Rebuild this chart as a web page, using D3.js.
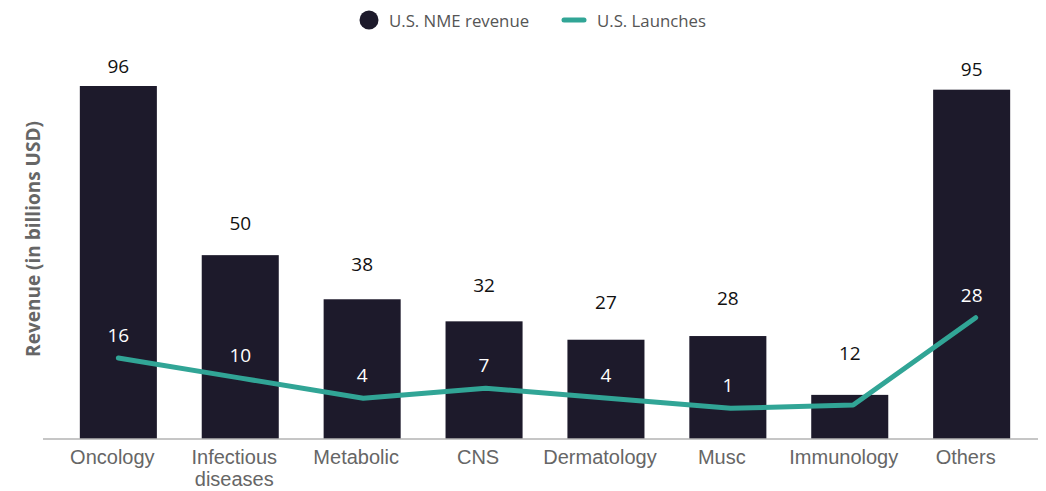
<!DOCTYPE html>
<html>
<head>
<meta charset="utf-8">
<script src="https://cdn.jsdelivr.net/npm/d3@7"></script>
<style>
  html, body { margin: 0; padding: 0; background: #fff; }
  svg { display: block; font-family: "Open Sans", sans-serif; }
</style>
</head>
<body>
<svg id="chart" width="1046" height="491"></svg>
<script>
const categories = ["Oncology", "Infectious diseases", "Metabolic", "CNS", "Dermatology", "Musc", "Immunology", "Others"];
const revenue = [96, 50, 38, 32, 27, 28, 12, 95];
const launches = [16, 10, 4, 7, 4, 1, 2, 28];
const hiddenLaunchLabels = ["Immunology"];
const seriesNames = ["U.S. NME revenue", "U.S. Launches"];
const yTitle = "Revenue (in billions USD)";

const barColor = "#1d1a2b";
const lineColor = "#31a596";

const W = 1046, H = 491;
const svg = d3.select("#chart");

const x = d3.scaleBand()
  .domain(categories)
  .range([57.4, 1032.6])
  .paddingInner(0.368)
  .paddingOuter(0.184);

const yBar = d3.scaleLinear().domain([0, 100]).range([439, 71.3]);
const yLabel = d3.scaleLinear().domain([0, 100]).range([394, 52.3]);
const yLine = d3.scaleLinear().domain([-8, 30]).range([438.5, 311]);
const xLine = d3.scalePoint().domain(categories)
  .range([x("Oncology") + x.bandwidth() / 2, x("Others") + x.bandwidth() / 2 + 4]);

// bars
svg.append("g").selectAll("rect").data(categories).join("rect")
  .attr("x", d => x(d))
  .attr("width", x.bandwidth())
  .attr("y", (d, i) => yBar(revenue[i]))
  .attr("height", (d, i) => yBar(0) - yBar(revenue[i]))
  .attr("fill", barColor);

// bar labels
svg.append("g").selectAll("text").data(categories).join("text")
  .attr("x", d => x(d) + x.bandwidth() / 2)
  .attr("y", (d, i) => yLabel(revenue[i]))
  .attr("text-anchor", "middle")
  .attr("dominant-baseline", "central")
  .attr("font-size", 19)
  .attr("fill", "#111")
  .text((d, i) => revenue[i]);

// x axis
const xAxis = d3.axisBottom(x).tickSize(0).tickPadding(0);
const gx = svg.append("g").attr("transform", `translate(0,${yBar(0)})`).call(xAxis);
gx.select(".domain").attr("stroke", "#b3b3b3").attr("stroke-width", 1.5)
  .attr("d", `M43,0H1038`);
gx.selectAll(".tick text").remove();
gx.selectAll(".tick").each(function(d) {
  const words = d.split(" ");
  const t = d3.select(this).append("text")
    .attr("fill", "#666")
    .attr("font-size", 20)
    .attr("text-anchor", "middle");
  words.forEach((w, i) => {
    t.append("tspan").attr("x", -6).attr("y", 25 + i * 22).text(w);
  });
});

// line
const pts = categories.map((c, i) => [xLine(c), yLine(launches[i])]);
svg.append("path")
  .attr("d", d3.line()(pts))
  .attr("fill", "none")
  .attr("stroke", lineColor)
  .attr("stroke-width", 5)
  .attr("stroke-linecap", "round")
  .attr("stroke-linejoin", "round");

// line labels
svg.append("g").selectAll("text")
  .data(categories.map((c, i) => ({c, v: launches[i]})).filter(d => !hiddenLaunchLabels.includes(d.c)))
  .join("text")
  .attr("x", d => x(d.c) + x.bandwidth() / 2)
  .attr("y", d => yLine(d.v) - 23)
  .attr("text-anchor", "middle")
  .attr("dominant-baseline", "central")
  .attr("font-size", 19)
  .attr("fill", "#fff")
  .text(d => d.v);

// y title
svg.append("text")
  .attr("transform", `translate(33,239) rotate(-90)`)
  .attr("text-anchor", "middle")
  .attr("dominant-baseline", "central")
  .attr("font-size", 19)
  .attr("font-weight", "bold")
  .attr("fill", "#666")
  .text(yTitle);

// legend
const lg = svg.append("g");
lg.append("circle").attr("cx", 369).attr("cy", 20).attr("r", 9.5).attr("fill", barColor);
lg.append("text").attr("x", 389).attr("y", 20).attr("dominant-baseline", "central")
  .attr("font-size", 16.8).attr("fill", "#555").text(seriesNames[0]);
lg.append("line").attr("x1", 564).attr("x2", 584).attr("y1", 20).attr("y2", 20)
  .attr("stroke", lineColor).attr("stroke-width", 5).attr("stroke-linecap", "round");
lg.append("text").attr("x", 597).attr("y", 20).attr("dominant-baseline", "central")
  .attr("font-size", 16.8).attr("fill", "#555").text(seriesNames[1]);
</script>
</body>
</html>
